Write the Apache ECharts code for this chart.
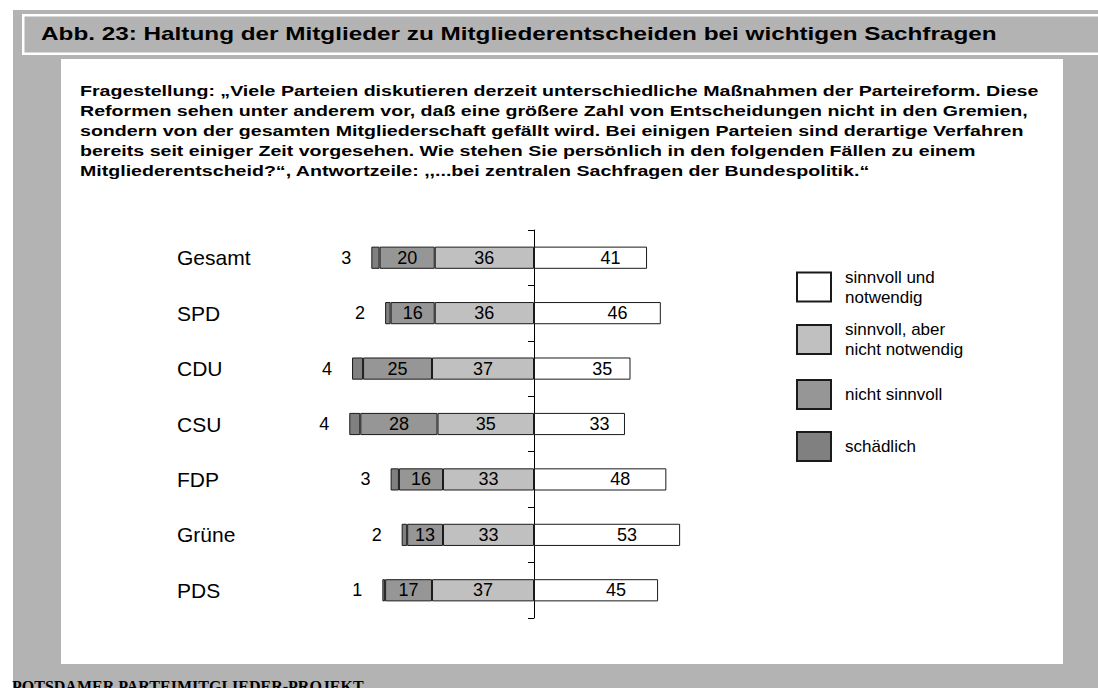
<!DOCTYPE html>
<html>
<head>
<meta charset="utf-8">
<script src="https://cdn.jsdelivr.net/npm/echarts@6/dist/echarts.min.js"></script>
<style>
html,body{margin:0;padding:0;background:#fff;}
#chart{width:1098px;height:688px;}
</style>
</head>
<body>
<div id="chart"></div>
<script>
const categories = ['Gesamt', 'SPD', 'CDU', 'CSU', 'FDP', 'Grüne', 'PDS'];
const schaedlich = [3, 2, 4, 4, 3, 2, 1];
const nichtSinnvoll = [20, 16, 25, 28, 16, 13, 17];
const sinnvollAber = [36, 36, 37, 35, 33, 33, 37];
const sinnvollNotwendig = [41, 46, 35, 33, 48, 53, 45];
const seriesNames = ['sinnvoll und notwendig', 'sinnvoll, aber nicht notwendig', 'nicht sinnvoll', 'schädlich'];
const legendLabels = ['sinnvoll und\nnotwendig', 'sinnvoll, aber\nnicht notwendig', 'nicht sinnvoll', 'schädlich'];
const titleText = 'Abb. 23: Haltung der Mitglieder zu Mitgliederentscheiden bei wichtigen Sachfragen';
const questionLines = [
  'Fragestellung: „Viele Parteien diskutieren derzeit unterschiedliche Maßnahmen der Parteireform. Diese',
  'Reformen sehen unter anderem vor, daß eine größere Zahl von Entscheidungen nicht in den Gremien,',
  'sondern von der gesamten Mitgliederschaft gefällt wird. Bei einigen Parteien sind derartige Verfahren',
  'bereits seit einiger Zeit vorgesehen. Wie stehen Sie persönlich in den folgenden Fällen zu einem',
  'Mitgliederentscheid?“, Antwortzeile: ,,...bei zentralen Sachfragen der Bundespolitik.“'
];
const footerText = 'POTSDAMER PARTEIMITGLIEDER-PROJEKT';

const SANS = '"Liberation Sans", Arial, Helvetica, sans-serif';
const SERIF = '"Liberation Serif", "Times New Roman", serif';
const colors = {
  white: '#ffffff',
  light: '#c0c0c0',
  mid: '#969696',
  dark: '#808080',
  bg: '#b3b3b3'
};
const border = { borderColor: '#1a1a1a', borderWidth: 1 };

const chart = echarts.init(document.getElementById('chart'), null, { renderer: 'svg' });

const graphics = [
  { type: 'rect', z: -10, shape: { x: 13, y: 10, width: 1100, height: 700 }, style: { fill: colors.bg } },
  { type: 'rect', z: -9, shape: { x: 22, y: 14, width: 1100, height: 41 }, style: { fill: '#ffffff' } },
  { type: 'rect', z: -8, shape: { x: 24.5, y: 16.5, width: 1100, height: 36 }, style: { fill: colors.bg } },
  { type: 'rect', z: -7, shape: { x: 61, y: 59, width: 1002, height: 605 }, style: { fill: '#ffffff' } },
  { type: 'text', z: 10, x: 41, y: 34, scaleX: 1.35, style: { x: 0, y: 0, text: titleText, font: 'bold 18px ' + SANS, fill: '#000', verticalAlign: 'middle', textVerticalAlign: 'middle' } },
  { type: 'text', z: 10, x: 12, y: 686, style: { x: 0, y: 0, text: footerText, font: 'bold 16px ' + SERIF, fill: '#000', verticalAlign: 'middle', textVerticalAlign: 'middle' } }
];
questionLines.forEach((t, i) => {
  graphics.push({ type: 'text', z: 10, x: 80, y: 91 + i * 20, scaleX: 1.4, style: { x: 0, y: 0, text: t, font: 'bold 14px ' + SANS, fill: '#000', verticalAlign: 'middle', textVerticalAlign: 'middle' } });
});

const legendTops = [267, 319.5, 379, 431];
const legends = seriesNames.map((n, i) => ({
  data: [n],
  orient: 'vertical',
  left: 796,
  top: legendTops[i],
  padding: 0,
  itemWidth: 34,
  itemHeight: 29,
  icon: 'rect',
  selectedMode: false,
  formatter: () => legendLabels[i],
  textStyle: { fontFamily: SANS, fontSize: 17, lineHeight: 20, color: '#000', padding: [0, 0, 0, 9] }
}));

const labelBase = { fontFamily: SANS, fontSize: 18, color: '#000' };

chart.setOption({
  animation: false,
  backgroundColor: '#ffffff',
  graphic: graphics,
  legend: legends,
  grid: { left: 258.3, right: 288.3, top: 230, bottom: 70, containLabel: false },
  xAxis: { type: 'value', min: -100, max: 100, show: false, splitLine: { show: false } },
  yAxis: [
    {
      type: 'category', data: categories, inverse: true, position: 'left',
      axisLine: { show: true, onZero: true, lineStyle: { color: '#000', width: 1 } },
      axisTick: { show: true, length: 6, lineStyle: { color: '#000' } },
      axisLabel: { show: false }
    },
    {
      type: 'category', data: categories, inverse: true, position: 'left',
      axisLine: { show: false, onZero: false }, axisTick: { show: false },
      axisLabel: { show: true, align: 'left', margin: 258.3 - 177, fontFamily: SANS, fontSize: 21, color: '#000' }
    }
  ],
  series: [
    {
      name: seriesNames[1], type: 'bar', stack: 'a', barWidth: '40%', yAxisIndex: 0,
      data: sinnvollAber.map(v => -v),
      itemStyle: Object.assign({ color: colors.light }, border),
      label: Object.assign({ show: true, position: 'inside', formatter: p => Math.abs(p.value) }, labelBase)
    },
    {
      name: seriesNames[2], type: 'bar', stack: 'a', yAxisIndex: 0,
      data: nichtSinnvoll.map(v => -v),
      itemStyle: Object.assign({ color: colors.mid }, border),
      label: Object.assign({ show: true, position: 'inside', formatter: p => Math.abs(p.value) }, labelBase)
    },
    {
      name: seriesNames[3], type: 'bar', stack: 'a', yAxisIndex: 0,
      data: schaedlich.map(v => -v),
      itemStyle: Object.assign({ color: colors.dark }, border),
      label: Object.assign({ show: true, position: 'left', distance: 20, formatter: p => Math.abs(p.value) }, labelBase)
    },
    {
      name: seriesNames[0], type: 'bar', stack: 'a', yAxisIndex: 0,
      data: sinnvollNotwendig,
      itemStyle: Object.assign({ color: colors.white }, border),
      label: Object.assign({ show: true, position: 'inside', offset: [20, 0], formatter: p => Math.abs(p.value) }, labelBase)
    }
  ]
});
</script>
</body>
</html>
